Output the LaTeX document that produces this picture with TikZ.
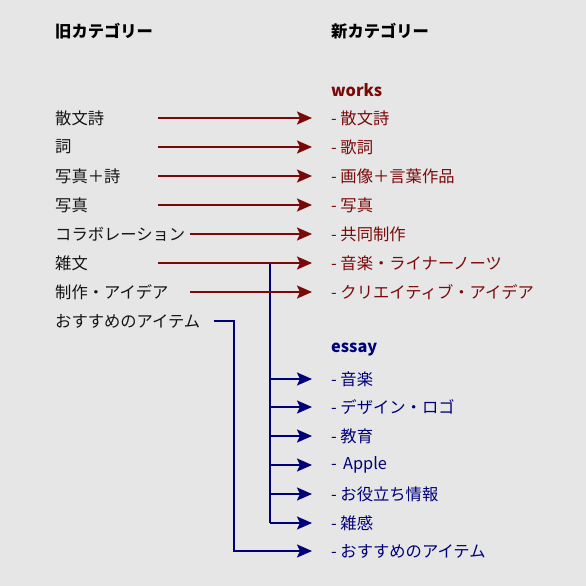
\documentclass[tikz,border=0pt]{standalone}
\usepackage{fontspec}
\setmainfont{Noto Sans CJK JP}
\usetikzlibrary{arrows.meta}
\definecolor{bg}{HTML}{E6E6E6}
\definecolor{wred}{HTML}{7A0A0A}
\definecolor{eblue}{HTML}{000078}
\definecolor{ink}{HTML}{141414}
\begin{document}
\begin{tikzpicture}[x=1pt,y=-1pt,
  txt/.style={anchor=west,inner sep=0pt,font=\fontsize{16.3}{16.3}\selectfont},
  oldc/.style={txt,text=ink},
  hdr/.style={txt,text=black,font=\fontsize{16.3}{16.3}\selectfont\bfseries},
  wk/.style={txt,text=wred},
  es/.style={txt,text=eblue},
  ra/.style={draw=wred,line width=2pt,-{Stealth[length=15pt,width=13pt,inset=3pt]}},
  ba/.style={draw=eblue,line width=2pt,-{Stealth[length=15pt,width=13pt,inset=3pt]}},
  bl/.style={draw=eblue,line width=2pt}]
\fill[bg] (0,0) rectangle (586,586);
\useasboundingbox (0,0) rectangle (586,586);
% headers
\node[hdr] (h1) at (55,31) {旧カテゴリー};
\node[hdr] (h2) at (331,31) {新カテゴリー};
\node[hdr,text=wred] (works) at (331,90) {works};
\node[hdr,text=eblue] (essay) at (331,350) {essay};
% old
\node[oldc] (o1) at (55,118) {散文詩};
\node[oldc] (o2) at (55,147) {詞};
\node[oldc] (o3) at (55,176) {写真＋詩};
\node[oldc] (o4) at (55,205) {写真};
\node[oldc] (o5) at (55,234) {コラボレーション};
\node[oldc] (o6) at (55,263) {雑文};
\node[oldc] (o7) at (55,292) {制作・アイデア};
\node[oldc] (o8) at (55,321) {おすすめのアイテム};
% new works
\node[wk] (n1) at (331,118) {- 散文詩};
\node[wk] (n2) at (331,147) {- 歌詞};
\node[wk] (n3) at (331,176) {- 画像＋言葉作品};
\node[wk] (n4) at (331,205) {- 写真};
\node[wk] (n5) at (331,234) {- 共同制作};
\node[wk] (n6) at (331,263) {- 音楽・ライナーノーツ};
\node[wk] (n7) at (331,292) {- クリエイティブ・アイデア};
% new essay
\node[es] (e1) at (331,379) {- 音楽};
\node[es] (e2) at (331,407) {- デザイン・ロゴ};
\node[es] (e3) at (331,436) {- 教育};
\node[es] (e4) at (331,465) {- \,Apple};
\node[es] (e5) at (331,494) {- お役立ち情報};
\node[es] (e6) at (331,523) {- 雑感};
\node[es] (e7) at (331,551) {- おすすめのアイテム};
% connector anchors
\foreach \i/\y in {1/118,2/147,3/176,4/205,6/263} {
  \coordinate (s\i) at (158,\y);
}
\coordinate (s5) at (190,234);
\coordinate (s7) at (190,292);
\foreach \i/\y in {1/118,2/147,3/176,4/205,5/234,6/263,7/292} {
  \coordinate (t\i) at (312,\y);
}
\foreach \i/\y in {1/379,2/407,3/436,4/465,5/494,6/523,7/551} {
  \coordinate (u\i) at (312,\y);
}
\coordinate (j0) at (270,263);
\foreach \i/\y in {1/379,2/407,3/436,4/465,5/494,6/523} {
  \coordinate (j\i) at (270,\y);
}
\coordinate (k0) at (214,321);
\coordinate (k1) at (234,321);
\coordinate (k2) at (234,551);
% blue tree
\draw[bl] (j0) -- (j6);
\foreach \i in {1,...,6} { \draw[ba] (j\i) -- (u\i); }
\draw[ba] (k0) -- (k1) -- (k2) -- (u7);
% red arrows
\foreach \i in {1,...,7} { \draw[ra] (s\i) -- (t\i); }
\end{tikzpicture}
\end{document}
